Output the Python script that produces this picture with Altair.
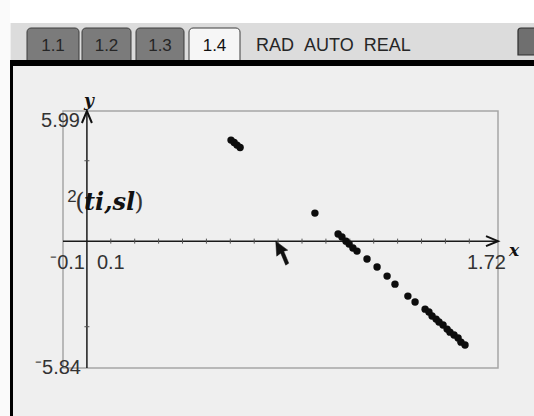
import altair as alt

# Graph window (xmin, xmax, ymin, ymax)
X_MIN, X_MAX = -0.1, 1.72
Y_MIN, Y_MAX = -5.84, 5.99

# Scatter plot of (ti, sl)
ti = [0.603, 0.616, 0.628, 0.641,
      0.954,
      1.051, 1.067, 1.084, 1.097, 1.113, 1.130,
      1.172, 1.214, 1.256, 1.289, 1.343, 1.373,
      1.415, 1.431, 1.444, 1.461, 1.473, 1.490, 1.507, 1.519,
      1.536, 1.553, 1.565, 1.582]
sl = [4.65, 4.54, 4.42, 4.31,
      1.29,
      0.33, 0.19, 0.00, -0.13, -0.32, -0.46,
      -0.82, -1.19, -1.61, -1.98, -2.53, -2.80,
      -3.13, -3.26, -3.45, -3.59, -3.72, -3.86, -4.05, -4.19,
      -4.32, -4.46, -4.65, -4.78]

# Axis tick marks
x_ticks = [0.1, 0.2, 0.3, 0.4, 0.5, 0.6, 0.7, 0.8,
           0.9, 1.0, 1.1, 1.2, 1.3, 1.4, 1.5, 1.6]
y_ticks = [3.7, -3.94]

# Screen header
tab_labels = ["1.1", "1.2", "1.3", "1.4"]
active_tab = "1.4"
status_words = ["RAD", "AUTO", "REAL"]
plot_label = "ti,sl"
cursor_at = (0.79, 0.0)

X_SCALE = alt.Scale(domain=[X_MIN, X_MAX], nice=False, zero=False)
Y_SCALE = alt.Scale(domain=[Y_MIN, Y_MAX], nice=False, zero=False)

NUM_FONT = "Liberation Sans"
VAR_FONT = "DejaVu Serif"
INK = "#333333"

one_row = alt.Data(values=[{}])


def xq(field):
    return alt.X(f"{field}:Q", scale=X_SCALE, axis=None)


def yq(field):
    return alt.Y(f"{field}:Q", scale=Y_SCALE, axis=None)


def screen_rect(x, x2, y, y2, **style):
    return alt.Chart(one_row).mark_rect(**style).encode(
        x=alt.value(x), x2=alt.value(x2), y=alt.value(y), y2=alt.value(y2)
    )


def screen_text(text, x, y, **style):
    return alt.Chart(one_row).mark_text(text=text, **style).encode(
        x=alt.value(x), y=alt.value(y)
    )


def anchored_text(text, xv, yv, **style):
    return alt.Chart(alt.Data(values=[{"x": xv, "y": yv}])).mark_text(
        text=text, **style
    ).encode(x=xq("x"), y=yq("y"))


def neg(v):
    return ("\u207b" if v < 0 else "") + f"{abs(v):g}"


layers = []

# ---- header strip, tab bar and frame ----
layers.append(screen_rect(-63, 471, -111, -88, fill="#ffffff"))
layers.append(screen_rect(-63, -53, -111, 305, fill="#fafafa"))
layers.append(screen_rect(-52, 471, -88, -51, fill="#dcdcdc"))
tab_edges = [(-36, 16), (19, 68), (73, 121), (126, 177)]
for label, (a, b) in zip(tab_labels, tab_edges):
    active = label == active_tab
    layers.append(screen_rect(
        a, b, -83, -50,
        fill="#f6f6f6" if active else "#7b7b7b",
        stroke="#3c3c3c", strokeWidth=1,
        cornerRadiusTopLeft=4, cornerRadiusTopRight=4,
    ))
    layers.append(screen_text(
        label, (a + b) / 2, -65, font=NUM_FONT, fontSize=17,
        color="#111111" if active else "#262626",
        align="center", baseline="middle",
    ))
# mode indicators, spaced apart like the status line
layers.append(screen_text(
    "\u00a0\u00a0".join(status_words), 193, -65, font=NUM_FONT, fontSize=18,
    color="#262626", align="left", baseline="middle",
))
layers.append(screen_rect(
    455, 474, -83, -56, fill="#6f6f6f", stroke="#2e2e2e", strokeWidth=1.2,
    cornerRadiusTopLeft=3, cornerRadiusTopRight=3,
))
layers.append(screen_rect(-53, 471, -51, -45, fill="#000000"))
layers.append(screen_rect(-53, -50, -51, 305, fill="#000000"))

# ---- graph window frame ----
layers.append(
    alt.Chart(alt.Data(values=[{"x0": X_MIN, "x1": X_MAX, "y0": Y_MIN, "y1": Y_MAX}]))
    .mark_rect(fill=None, stroke="#a6a6a6", strokeWidth=1.5)
    .encode(x=xq("x0"), x2="x1:Q", y=yq("y0"), y2="y1:Q")
)

# ---- axes ----
layers.append(
    alt.Chart(alt.Data(values=[{"x0": X_MIN, "x1": X_MAX, "y": 0}]))
    .mark_rule(color="#1a1a1a", strokeWidth=1.5)
    .encode(x=xq("x0"), x2="x1:Q", y=yq("y"))
)
layers.append(
    alt.Chart(alt.Data(values=[{"x": 0, "y0": Y_MIN, "y1": Y_MAX}]))
    .mark_rule(color="#1a1a1a", strokeWidth=1.5)
    .encode(x=xq("x"), y=yq("y0"), y2="y1:Q")
)
layers.append(
    alt.Chart(alt.Data(values=[{"x": X_MAX, "y": 0}]))
    .mark_point(shape="M-12,-5L0,0L-12,5", size=4, filled=False,
                stroke="#111111", strokeWidth=2, opacity=1)
    .encode(x=xq("x"), y=yq("y"))
)
layers.append(
    alt.Chart(alt.Data(values=[{"x": 0, "y": Y_MAX}]))
    .mark_point(shape="M-5,12L0,0L5,12", size=4, filled=False,
                stroke="#111111", strokeWidth=2, opacity=1)
    .encode(x=xq("x"), y=yq("y"))
)
layers.append(
    alt.Chart(alt.Data(values=[{"t": t, "y": 0} for t in x_ticks]))
    .mark_point(shape="M0,-2.5L0,2.5", size=4, filled=False,
                stroke="#555555", strokeWidth=1, opacity=1)
    .encode(x=xq("t"), y=yq("y"))
)
layers.append(
    alt.Chart(alt.Data(values=[{"x": 0, "t": t} for t in y_ticks]))
    .mark_point(shape="M-2.5,0L2.5,0", size=4, filled=False,
                stroke="#555555", strokeWidth=1, opacity=1)
    .encode(x=xq("x"), y=yq("t"))
)

# ---- window value labels ----
num_style = dict(font=NUM_FONT, fontSize=20, color=INK, baseline="middle")
layers.append(anchored_text(f"{Y_MAX:g}", X_MIN, Y_MAX, align="right", dx=17, dy=10, **num_style))
layers.append(anchored_text(neg(Y_MIN), X_MIN, Y_MIN, align="right", dx=18, dy=0, **num_style))
layers.append(anchored_text(neg(X_MIN), X_MIN, 0, align="right", dx=22, dy=22, **num_style))
layers.append(anchored_text(f"{abs(X_MIN):g}", 0, 0, align="left", dx=10, dy=22, **num_style))
layers.append(anchored_text(f"{X_MAX:g}", X_MAX, 0, align="left", dx=-31, dy=22, **num_style))

var_style = dict(font=VAR_FONT, fontStyle="italic", fontWeight="bold",
                 color="#111111", baseline="middle", align="center")
layers.append(anchored_text("x", X_MAX, 0, dx=16, dy=10, fontSize=17, **var_style))
layers.append(anchored_text("y", 0, Y_MAX, dx=2, dy=-10, fontSize=17, **var_style))

# ---- plot label 2(ti,sl) ----
layers.append(screen_text("2", 9, 86, font=NUM_FONT, fontSize=17, color=INK,
                          align="center", baseline="middle"))
layers.append(screen_text("(", 17, 92, font=VAR_FONT, fontSize=24, color=INK,
                          align="center", baseline="middle"))
layers.append(screen_text(plot_label, 21, 92, font=VAR_FONT, fontSize=24,
                          fontStyle="italic", fontWeight="bold", color="#111111",
                          align="left", baseline="middle"))
layers.append(screen_text(")", 76, 92, font=VAR_FONT, fontSize=24, color=INK,
                          align="center", baseline="middle"))

# ---- data points ----
layers.append(
    alt.Chart(alt.Data(values=[{"ti": a, "sl": b} for a, b in zip(ti, sl)]))
    .mark_circle(size=55, color="#0d0d0d", opacity=1)
    .encode(x=xq("ti"), y=yq("sl"))
)

# ---- pointer ----
layers.append(
    alt.Chart(alt.Data(values=[{"x": cursor_at[0], "y": cursor_at[1]}]))
    .mark_point(shape="M0,0L1,15L5,12L10,24L13,22L8,10L12,9Z", size=4,
                filled=True, fill="#111111", stroke="#111111", strokeWidth=0.5,
                opacity=1)
    .encode(x=xq("x"), y=yq("y"))
)

chart = (
    alt.layer(*layers)
    .properties(
        width=435,
        height=257,
        padding={"left": 63, "top": 111, "right": 36, "bottom": 48},
        autosize="none",
        background="#efefef",
    )
    .configure_view(stroke=None)
)

chart.save("out.html", embed_options={"renderer": "svg", "actions": False})
